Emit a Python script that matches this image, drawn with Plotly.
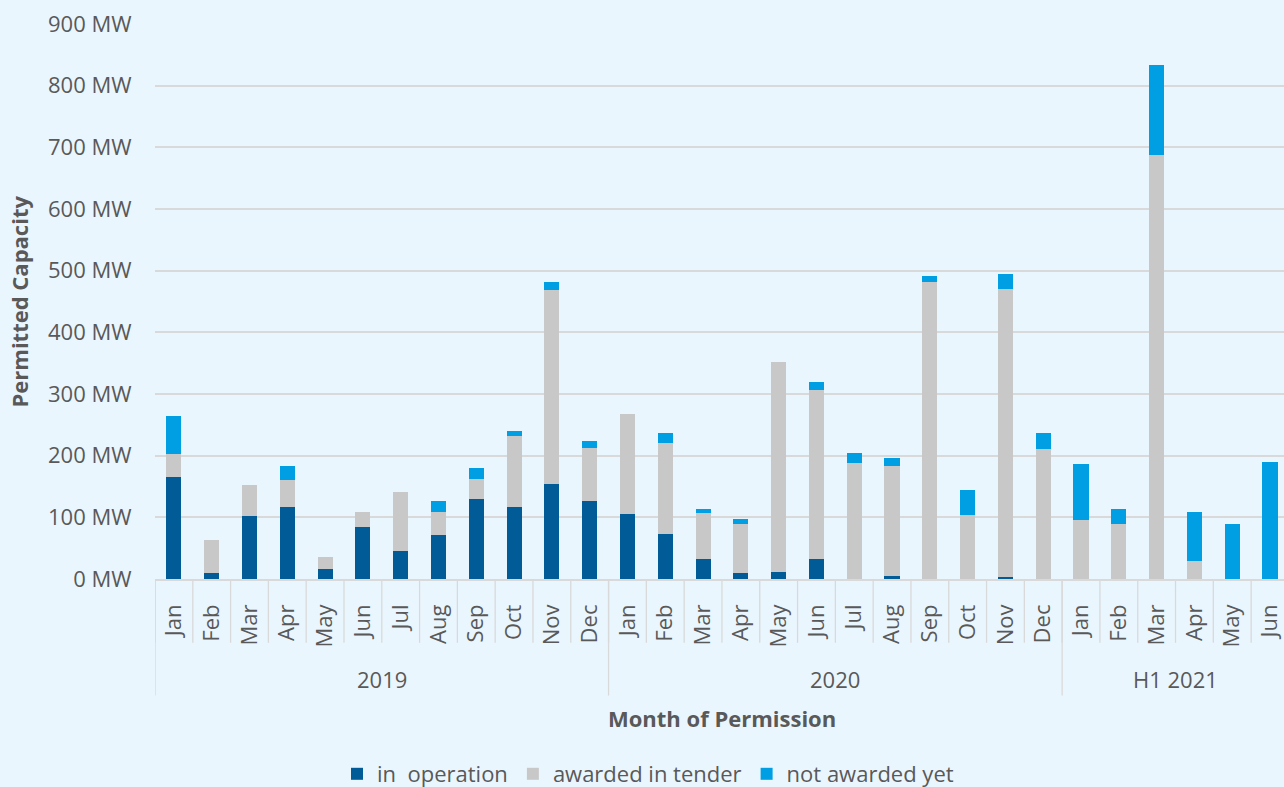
import plotly.graph_objects as go

months = ["Jan", "Feb", "Mar", "Apr", "May", "Jun", "Jul", "Aug", "Sep", "Oct", "Nov", "Dec",
          "Jan", "Feb", "Mar", "Apr", "May", "Jun", "Jul", "Aug", "Sep", "Oct", "Nov", "Dec",
          "Jan", "Feb", "Mar", "Apr", "May", "Jun"]
groups = ["2019", "2020", "H1 2021"]
group_sizes = [12, 12, 6]

in_operation = [165, 10, 102, 117, 16, 85, 45, 72, 130, 117, 154, 127,
                105, 73, 32, 10, 12, 32, 0, 5, 0, 0, 4, 0,
                0, 0, 0, 0, 0, 0]
awarded = [37, 53, 51, 44, 20, 24, 96, 36, 32, 115, 315, 86,
           162, 147, 75, 79, 340, 275, 188, 178, 482, 104, 467, 211,
           96, 89, 688, 29, 0, 0]
not_awarded = [62, 0, 0, 22, 0, 0, 0, 18, 18, 8, 13, 10,
               0, 16, 6, 8, 0, 13, 16, 14, 9, 40, 23, 26,
               91, 24, 146, 80, 89, 190]

series = [("in  operation", in_operation, "#005B96"),
          ("awarded in tender", awarded, "#C8C8C8"),
          ("not awarded yet", not_awarded, "#009FE3")]

x = list(range(len(months)))
FONT = "Open Sans"
TXT = "#595959"
GRID = "#D9D9D9"
BG = "#EAF6FE"
FS = 22

fig = go.Figure()
for name, vals, col in series:
    fig.add_trace(go.Bar(x=x, y=vals, name=name, marker=dict(color=col, line=dict(width=0)),
                         width=0.4))

shapes = []
for i in range(len(months)):
    shapes.append(dict(type="line", xref="x", yref="paper", x0=i - 0.5, x1=i - 0.5,
                       y0=0, y1=-0.115, line=dict(color=GRID, width=1.3)))
annotations = []
start = 0
for g, n in zip(groups, group_sizes):
    shapes.append(dict(type="line", xref="x", yref="paper", x0=start - 0.5, x1=start - 0.5,
                       y0=0, y1=-0.21, line=dict(color=GRID, width=1.3)))
    annotations.append(dict(xref="x", yref="paper", x=start + (n - 1) / 2, y=-0.181,
                            text=g, showarrow=False, yanchor="middle",
                            font=dict(family=FONT, size=FS, color=TXT)))
    start += n

annotations.append(dict(xref="paper", yref="paper", x=(722 - 155) / 1129, y=(579 - 718) / 555,
                        text="<b>Month of Permission</b>", showarrow=False, yanchor="middle",
                        font=dict(family=FONT, size=FS, color=TXT)))
annotations.append(dict(xref="paper", yref="paper", x=(18 - 155) / 1129, y=0.5, textangle=-90,
                        text="<b>Permitted Capacity</b>", showarrow=False, xanchor="center",
                        yanchor="middle", font=dict(family=FONT, size=FS, color=TXT)))

fig.update_layout(
    width=1284, height=787,
    margin=dict(l=155, r=0, t=24, b=208, autoexpand=False),
    paper_bgcolor=BG, plot_bgcolor=BG,
    barmode="stack",
    font=dict(family=FONT, size=FS, color=TXT),
    shapes=shapes, annotations=annotations,
    showlegend=True,
    legend=dict(orientation="h", x=(648 - 155) / 1129, xanchor="center", y=(579 - 774) / 555,
                yanchor="middle", font=dict(family=FONT, size=FS, color=TXT),
                traceorder="normal", bgcolor="rgba(0,0,0,0)"),
    xaxis=dict(range=[-0.5, 29.37], tickmode="array", tickvals=x, ticktext=months,
               tickangle=-90, showgrid=False, zeroline=False, showline=True,
               linecolor=GRID, linewidth=1.5, ticks="outside", ticklen=15,
               tickcolor="rgba(0,0,0,0)", tickfont=dict(size=FS, color=TXT)),
    yaxis=dict(range=[0, 900], dtick=100, ticksuffix=" MW", showgrid=True, gridcolor=GRID,
               gridwidth=1.5, zeroline=False, ticks="outside", ticklen=18,
               tickcolor="rgba(0,0,0,0)", tickfont=dict(size=FS, color=TXT)),
    bargap=0.6,
)

fig.write_html("out.html", config={"displayModeBar": False},
               post_script="document.body.style.margin='0';")
